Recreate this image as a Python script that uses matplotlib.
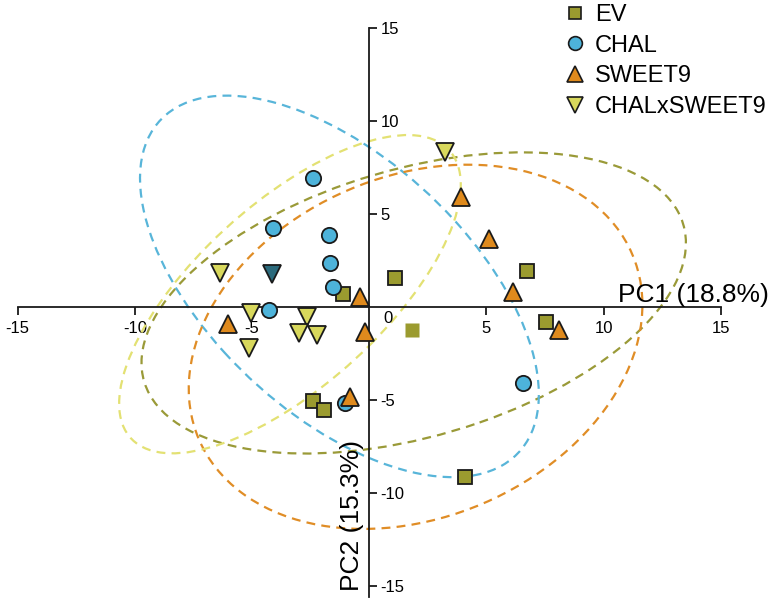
import matplotlib
matplotlib.use('Agg')
import matplotlib.pyplot as plt
from matplotlib.patches import Ellipse
from matplotlib.lines import Line2D

plt.rcParams['font.family'] = ['Liberation Sans', 'DejaVu Sans']

groups = ['EV', 'CHAL', 'SWEET9', 'CHALxSWEET9']
markers = ['s', 'o', '^', 'v']
sizes = [10, 11, 12.5, 12.5]
fills = ['#9b9b2f', '#4db3da', '#df8a1d', '#d8d85c']
lines_col = ['#9a9a38', '#58b5d9', '#e08d26', '#e3e173']

# PCA scores
ev_x = [-1.11, 1.11, 6.75, 7.56, -2.39, -1.92, 4.10]
ev_y = [0.70, 1.56, 1.94, -0.81, -5.05, -5.54, -9.14]
chal_x = [-2.39, -4.10, -1.71, -1.67, -1.54, -4.27, -1.03, 6.58]
chal_y = [6.94, 4.25, 3.87, 2.37, 1.08, -0.16, -5.16, -4.09]
sw_x = [-0.38, -6.03, -0.17, -0.81, 3.93, 5.13, 6.15, 8.08]
sw_y = [0.54, -0.91, -1.34, -4.84, 5.91, 3.66, 0.81, -1.24]
cs_x = [3.25, -6.37, -5.04, -2.65, -2.99, -2.22, -5.13]
cs_y = [8.33, 1.83, -0.32, -0.54, -1.40, -1.51, -2.20]

# odd points in the figure: dark down triangle and an EV square drawn without edge
dark_x, dark_y = [-4.15], [1.77]
ev_mean_x, ev_mean_y = [1.84], [-1.24]

# ellipses: centre x, centre y, width, height, angle (deg)
ell_cx = [1.90, -1.27, 1.98, -3.38]
ell_cy = [0.22, 1.11, -2.14, 0.69]
ell_w = [24.60, 23.75, 21.61, 20.72]
ell_h = [14.04, 12.12, 17.08, 8.74]
ell_ang = [23.6, -54.2, 46.5, 51.6]

xs = [ev_x, chal_x, sw_x, cs_x]
ys = [ev_y, chal_y, sw_y, cs_y]

fig = plt.figure(figsize=(7.82, 6), dpi=100)
ax = fig.add_axes([0.0226, 0.005, 0.899, 0.948])

for i in range(4):
    e = Ellipse((ell_cx[i], ell_cy[i]), ell_w[i], ell_h[i], angle=ell_ang[i],
                fill=False, edgecolor=lines_col[i], lw=1.6, linestyle=(0, (4, 2.8)), zorder=2)
    ax.add_patch(e)

for i in range(4):
    ax.plot(xs[i], ys[i], linestyle='none', marker=markers[i], ms=sizes[i],
            mfc=fills[i], mec='#1a1a1a', mew=1.3, zorder=4)
ax.plot(dark_x, dark_y, linestyle='none', marker='v', ms=12.5, mfc='#2b6a7c', mec='#1a1a1a', mew=1.3, zorder=4)
ax.plot(ev_mean_x, ev_mean_y, linestyle='none', marker='s', ms=10, mfc='#9b9b2f', mec='none', zorder=4)

ax.set_xlim(-15, 15)
ax.set_ylim(-15.6, 15)
ax.spines['top'].set_visible(False)
ax.spines['left'].set_visible(False)
ax.spines['right'].set_position(('data', 0))
ax.spines['bottom'].set_position(('data', 0))
for s in ['right', 'bottom']:
    ax.spines[s].set_linewidth(1.3)
    ax.spines[s].set_color('#1a1a1a')
ax.yaxis.tick_right()
ax.set_xticks([-15, -10, -5, 5, 10, 15])
ax.set_yticks([-15, -10, -5, 5, 10, 15])
ax.set_xticklabels(['-15', '-10', '-5', '5', '10', '15'])
ax.set_yticklabels(['-15', '-10', '-5', '5', '10', '15'])
ax.tick_params(axis='x', direction='out', length=6, width=1.3, pad=4, labelsize=12, color='#1a1a1a')
ax.tick_params(axis='y', direction='out', length=6, width=1.3, pad=2, labelsize=12, color='#1a1a1a')
ax.patch.set_alpha(0)

ax.text(0.81, -0.6, '0', fontsize=12, ha='center', va='center')
ax.text(10.6, 0.25, 'PC1 (18.8%)', fontsize=19, ha='left', va='baseline')
ax.text(-0.2, -15.3, 'PC2 (15.3%)', fontsize=19, rotation=90, ha='right', va='bottom')

handles = [Line2D([], [], linestyle='none', marker=markers[i], ms=sizes[i] * 0.9,
                  mfc=fills[i], mec='#1a1a1a', mew=1.2) for i in range(4)]
fig.legend(handles, groups, loc='upper left', bbox_to_anchor=(563 / 782, 596 / 600),
           frameon=False, fontsize=17, handlelength=1.0, handletextpad=0.35,
           labelspacing=0.37, borderpad=0, borderaxespad=0)

fig.savefig('out.png')
